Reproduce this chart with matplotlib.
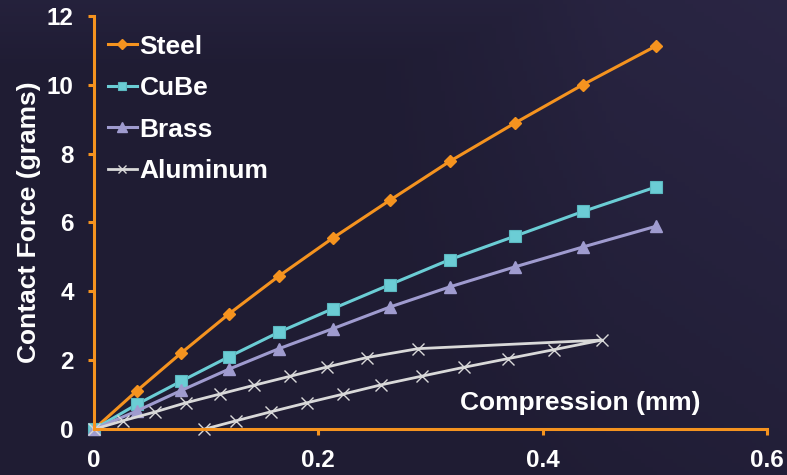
import numpy as np
import matplotlib
matplotlib.use('Agg')
import matplotlib.pyplot as plt

plt.rcParams['font.family'] = ['Liberation Sans', 'DejaVu Sans']
plt.rcParams['font.weight'] = 'bold'

# Data
compression = [0, 0.038, 0.078, 0.120, 0.165, 0.213, 0.264, 0.317, 0.375, 0.436, 0.501]
steel = [0, 1.11, 2.22, 3.34, 4.45, 5.55, 6.65, 7.77, 8.88, 10.0, 11.12]
cube = [0, 0.72, 1.40, 2.10, 2.82, 3.50, 4.20, 4.92, 5.60, 6.32, 7.03]
brass = [0, 0.53, 1.13, 1.74, 2.34, 2.92, 3.55, 4.13, 4.71, 5.29, 5.89]
# aluminum: loading then unloading (hysteresis)
al_x = [0, 0.026, 0.054, 0.082, 0.112, 0.143, 0.175, 0.208, 0.243, 0.289, 0.453,
        0.410, 0.369, 0.330, 0.292, 0.256, 0.222, 0.190, 0.158, 0.127, 0.098]
al_y = [0, 0.25, 0.50, 0.77, 1.02, 1.28, 1.54, 1.81, 2.08, 2.34, 2.59,
        2.31, 2.05, 1.80, 1.54, 1.29, 1.02, 0.77, 0.51, 0.25, 0]

orange = '#F5931F'
teal = '#6BCDD5'
lavender = '#9F9BCF'
grey = '#D9D9D9'
bg = '#221E36'

fig = plt.figure(figsize=(7.87, 4.75), dpi=100, facecolor=bg)

# background: soft dark gradient standing in for the photo
bg_ax = fig.add_axes([0, 0, 1, 1], zorder=-1)
gx, gy = np.meshgrid(np.linspace(0, 1, 200), np.linspace(0, 1, 120))
shade = np.clip(0.55 * gy + 0.6 * (gx - 0.6), 0, 1) * np.clip((gx - 0.45) * 3, 0, 1)
shade = np.maximum(shade, np.clip((gy - 0.85) * 4, 0, 1) * 0.7)
c0 = np.array([0x1F, 0x1C, 0x33]) / 255
c1 = np.array([0x2D, 0x28, 0x48]) / 255
img = c0 + shade[..., None] * (c1 - c0)
bg_ax.imshow(img, origin='lower', aspect='auto', extent=[0, 1, 0, 1])
bg_ax.axis('off')

ax = fig.add_axes([0.1194, 0.0962, 0.8552, 0.8708])
ax.set_facecolor('none')

ax.plot(compression, steel, color=orange, lw=2.2, marker='D', ms=6.5,
        mec=orange, label='Steel', clip_on=False)
ax.plot(compression, cube, color=teal, lw=2.2, marker='s', ms=8,
        mec='#5BB8C0', mew=0.8, label='CuBe', clip_on=False)
ax.plot(compression, brass, color=lavender, lw=2.2, marker='^', ms=9,
        mec=lavender, label='Brass', clip_on=False)
ax.plot(al_x, al_y, color=grey, lw=2.0, marker='x', ms=8, mew=1.0,
        label='Aluminum', clip_on=False)

ax.set_xlim(0, 0.6)
ax.set_ylim(0, 12)
ax.set_xticks([0, 0.2, 0.4, 0.6])
ax.set_xticklabels(['0', '0.2', '0.4', '0.6'])
ax.set_yticks(range(0, 13, 2))

for side in ['top', 'right']:
    ax.spines[side].set_visible(False)
for side in ['left', 'bottom']:
    ax.spines[side].set_color(orange)
    ax.spines[side].set_linewidth(2.2)
ax.tick_params(colors=orange, width=2.2, length=4.5, pad=10,
               labelcolor='white', labelsize=17.5)

ax.set_ylabel('Contact Force (grams)', color='white', fontsize=19, fontweight='bold')
ax.yaxis.set_label_coords(-0.079, 0.5)
ax.set_xlabel('Compression (mm)', color='white', fontsize=19, fontweight='bold')
ax.xaxis.set_label_coords(0.722, 0.093)

leg = ax.legend(loc='upper left', bbox_to_anchor=(0.137, 0.927),
                bbox_transform=fig.transFigure, frameon=False,
                fontsize=19, handlelength=1.1, handletextpad=0.1,
                labelspacing=0.66, borderpad=0, borderaxespad=0, markerscale=0.8)
for t in leg.get_texts():
    t.set_color('white')
    t.set_fontweight('bold')

fig.savefig('out.png', dpi=100, facecolor=bg)
